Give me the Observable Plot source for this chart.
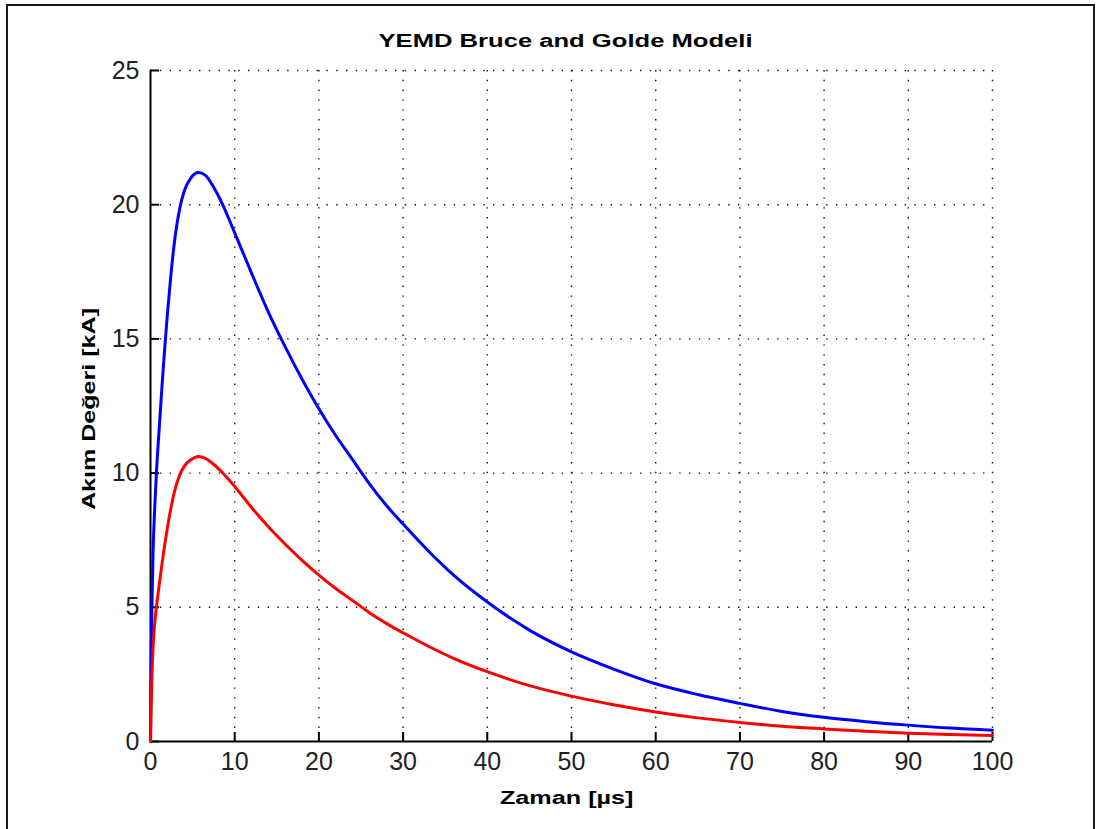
<!DOCTYPE html>
<html><head><meta charset="utf-8">
<script src="https://cdn.jsdelivr.net/npm/d3@7"></script>
<script src="https://cdn.jsdelivr.net/npm/@observablehq/plot@0.6"></script>
<style>
html,body{margin:0;padding:0;background:#fff;overflow:hidden}
#wrap{position:relative;width:1096px;height:829px;overflow:hidden;background:#fff}
#frame{position:absolute;left:6px;top:4px;width:1089px;height:900px;border:2px solid #1a1a1a;box-sizing:border-box}
#chart{position:absolute;left:0;top:0}
.lbl{position:absolute;font-family:"Liberation Sans",Arial,sans-serif;font-weight:bold;font-size:18px;color:#000;white-space:nowrap;line-height:1;transform-origin:center center}
</style></head>
<body><div id="wrap"><div id="frame"></div><div id="chart"></div>
<div id="title" class="lbl">YEMD Bruce and Golde Modeli</div>
<div id="xlab" class="lbl">Zaman [µs]</div>
<div id="ylab" class="lbl">Akım Değeri [kA]</div>
</div>
<script>
// Time samples (µs)
const time = [0,0.1,0.2,0.3,0.5,0.7,1.0,1.4,1.7,2.0,2.4,2.8,3.5,4.0,4.8,5.7,6.5,7.5,8.5,10,12,14,16,18,20,22,24,26,28,30,33,36,40,45,50,55,60,65,70,75,80,85,90,95,100];
// Blue curve current (kA)
const blueCurrent = [0,3.5,5.5,7.0,8.7,10.0,11.5,13.4,14.7,15.9,17.3,18.5,19.9,20.5,21.0,21.2,21.1,20.65,20.05,18.95,17.45,16.0,14.7,13.5,12.4,11.4,10.5,9.6,8.8,8.1,7.1,6.2,5.2,4.15,3.34,2.7,2.15,1.75,1.42,1.12,0.9,0.74,0.61,0.5,0.42];
// Red curve current (kA)
const redCurrent = [0,1.6,2.7,3.5,4.4,5.0,5.75,6.7,7.35,7.95,8.65,9.25,9.95,10.25,10.5,10.62,10.55,10.33,10.03,9.5,8.72,8.0,7.35,6.75,6.2,5.7,5.25,4.8,4.4,4.05,3.55,3.1,2.6,2.08,1.69,1.37,1.1,0.88,0.71,0.57,0.47,0.38,0.31,0.26,0.22];
const xTicks = [0,10,20,30,40,50,60,70,80,90,100];
const yTicks = [0,5,10,15,20,25];
const seriesColors = {blue:"#0000ff", red:"#ff0000"};

const blueData = time.map((t,i)=>({t, v: blueCurrent[i]}));
const redData = time.map((t,i)=>({t, v: redCurrent[i]}));

const W = 1096, H = 829, mL = 150, mR = 104, mT = 70, mB = 88;
const frameH = H - mT - mB, frameW = W - mL - mR;
const tickLen = 9;
const dotted = {stroke:"#111", strokeOpacity:1, strokeWidth:1.4, strokeDasharray:"1.4,8.4"};

const plot = Plot.plot({
  width: W, height: H,
  marginLeft: mL, marginRight: mR, marginTop: mT, marginBottom: mB,
  style: {background:"transparent", fontFamily:"'Liberation Sans', Arial, sans-serif", fontSize:"25px", color:"#222"},
  x: {domain:[0,100], label:null},
  y: {domain:[0,25], label:null},
  marks: [
    Plot.gridX(xTicks.filter(d=>d>0), dotted),
    Plot.gridY(yTicks.filter(d=>d>0), dotted),
    Plot.ruleX([0], {stroke:"#000", strokeWidth:2}),
    Plot.ruleY([0], {stroke:"#000", strokeWidth:2}),
    Plot.tickX(xTicks, {x:d=>d, insetTop: frameH - tickLen, stroke:"#000", strokeWidth:2}),
    Plot.tickY(yTicks, {y:d=>d, insetRight: frameW - tickLen, stroke:"#000", strokeWidth:2}),
    Plot.line(blueData, {x:"t", y:"v", stroke: seriesColors.blue, strokeWidth:3, curve:"monotone-x"}),
    Plot.line(redData, {x:"t", y:"v", stroke: seriesColors.red, strokeWidth:3, curve:"monotone-x"}),
    Plot.axisX(xTicks, {tickSize:0, tickPadding:11, fill:"#222"}),
    Plot.axisY(yTicks, {tickSize:0, tickPadding:11, fill:"#222"})
  ]
});
document.getElementById("chart").appendChild(plot);

function place(id, cx, cy, targetLen, rotate) {
  const el = document.getElementById(id);
  const w = el.offsetWidth, h = el.offsetHeight;
  const s = targetLen / w;
  el.style.left = (cx - w/2) + "px";
  el.style.top = (cy - h/2) + "px";
  el.style.transform = (rotate ? "rotate(-90deg) " : "") + `scaleX(${s})`;
}
place("title", 565, 41, 374, false);
place("xlab", 566, 798, 133, false);
place("ylab", 88, 409, 202, true);
</script>
</body></html>
